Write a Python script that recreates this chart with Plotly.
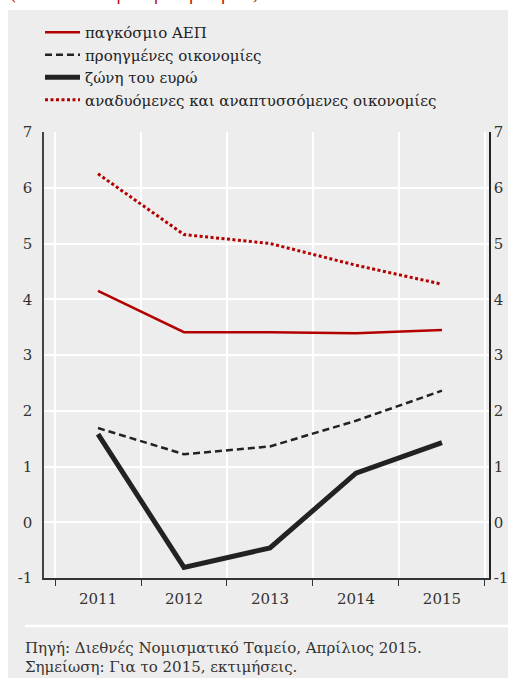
import plotly.graph_objects as go

years = ["2011", "2012", "2013", "2014", "2015"]
world_gdp = [4.15, 3.41, 3.41, 3.39, 3.45]
advanced = [1.69, 1.22, 1.36, 1.82, 2.36]
euro_area = [1.58, -0.81, -0.46, 0.88, 1.43]
emerging = [6.25, 5.16, 5.00, 4.61, 4.27]

names = ["παγκόσμιο ΑΕΠ", "προηγμένες οικονομίες", "ζώνη του ευρώ",
         "αναδυόμενες και αναπτυσσόμενες οικονομίες"]
y_ticks = [-1, 0, 1, 2, 3, 4, 5, 6, 7]
y_tick_text = ["-1", "0", "1", "2", "3", "4", "5", "6", "7"]

W, H = 508, 678
L, R, T, B = 44, 19, 132, 100
pw, ph = W - L - R, H - T - B

def px_x(p):
    return (p - L) / pw

def px_y(p):
    return (H - B - p) / ph

xi = list(range(len(years)))
SERIF = "DejaVu Serif"
RED = "#b40000"
DARK = "#222222"
TXT = "#333333"

fig = go.Figure()
fig.add_trace(go.Scatter(x=xi, y=world_gdp, name=names[0], mode="lines",
                         line=dict(color=RED, width=2.5)))
fig.add_trace(go.Scatter(x=xi, y=advanced, name=names[1], mode="lines",
                         line=dict(color=DARK, width=2.5, dash="7px,4px")))
fig.add_trace(go.Scatter(x=xi, y=euro_area, name=names[2], mode="lines",
                         line=dict(color=DARK, width=5)))
fig.add_trace(go.Scatter(x=xi, y=emerging, name=names[3], mode="lines",
                         line=dict(color=RED, width=3, dash="3px,2.5px")))
fig.add_trace(go.Scatter(x=xi, y=world_gdp, yaxis="y2", mode="lines",
                         line=dict(color="rgba(0,0,0,0)"), showlegend=False,
                         hoverinfo="skip"))

GRAY = "#ededed"
fig.add_shape(type="rect", xref="paper", yref="paper",
              x0=px_x(8), x1=px_x(W + 5), y0=px_y(10), y1=px_y(H + 5),
              fillcolor=GRAY, line=dict(width=0), layer="below")
fig.add_shape(type="line", xref="paper", yref="paper",
              x0=px_x(25), x1=px_x(W + 5), y0=px_y(626), y1=px_y(626),
              line=dict(color="white", width=2.5))

fig.add_annotation(text="(ποσοστιαία μεταβολή ετήσια)", xref="paper", yref="paper",
                   x=px_x(8), y=px_y(6), xanchor="left", yanchor="bottom",
                   showarrow=False, font=dict(family=SERIF, size=16, color="#c00000"))
fig.add_annotation(text="Πηγή: Διεθνές Νομισματικό Ταμείο, Απρίλιος 2015.",
                   xref="paper", yref="paper", x=px_x(23), y=px_y(648),
                   xanchor="left", yanchor="middle", showarrow=False,
                   font=dict(family=SERIF, size=15, color=TXT))
fig.add_annotation(text="Σημείωση: Για το 2015, εκτιμήσεις.",
                   xref="paper", yref="paper", x=px_x(23), y=px_y(667),
                   xanchor="left", yanchor="middle", showarrow=False,
                   font=dict(family=SERIF, size=15, color=TXT))

fig.update_layout(
    width=W, height=H,
    margin=dict(l=L, r=R, t=T, b=B, autoexpand=False),
    paper_bgcolor="white", plot_bgcolor=GRAY,
    font=dict(family=SERIF, size=15, color=TXT),
    showlegend=True,
    legend=dict(xref="container", yref="container", x=40 / W, y=1 - 16 / H,
                xanchor="left", yanchor="top", bgcolor="rgba(0,0,0,0)",
                font=dict(family=SERIF, size=15, color="#222222"),
                itemwidth=35, tracegroupgap=0),
    xaxis=dict(range=[-0.628, 4.547], tickvals=xi, ticktext=years,
               showgrid=False, zeroline=False, ticks="",
               showline=True, linecolor="#333333", linewidth=1.5,
               ticklabelstandoff=6,
               tickfont=dict(family=SERIF, size=15, color=TXT),
               minor=dict(tickvals=[-0.5, 0.5, 1.5, 2.5, 3.5, 4.5], showgrid=True,
                          gridcolor="white", gridwidth=2, ticks="outside",
                          ticklen=6, tickcolor="#333333", tickwidth=1.2)),
    yaxis=dict(range=[-1, 7], tickvals=y_ticks, ticktext=y_tick_text,
               showgrid=True, gridcolor="white",
               gridwidth=2, zeroline=False, showline=True, linecolor="#444444",
               linewidth=1.5, ticks="", ticklabelstandoff=7,
               tickfont=dict(family=SERIF, size=15, color=TXT)),
    yaxis2=dict(range=[-1, 7], tickvals=y_ticks, ticktext=y_tick_text,
                overlaying="y", side="right",
                showgrid=False, zeroline=False, showline=True, linecolor="#222222",
                linewidth=1.5, ticks="", ticklabelstandoff=0,
                tickfont=dict(family=SERIF, size=15, color=TXT)),
)

fig.write_html("out.html", config={"displayModeBar": False},
               post_script="document.body.style.margin='0';")
